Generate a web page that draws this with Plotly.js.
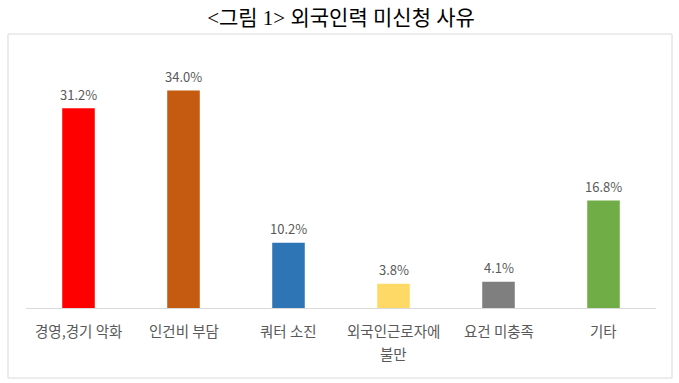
<!DOCTYPE html>
<html><head><meta charset="utf-8">
<script src="https://cdn.plot.ly/plotly-3.0.1.min.js"></script>
<style>body{margin:0;background:#fff}</style>
</head><body>
<div id="chart" style="width:679px;height:383px"></div>
<script>
const categories = ["경영,경기 악화", "인건비 부담", "쿼터 소진", "외국인근로자에\n불만", "요건 미충족", "기타"];
const values = [31.2, 34.0, 10.2, 3.8, 4.1, 16.8];
const labels = ["31.2%", "34.0%", "10.2%", "3.8%", "4.1%", "16.8%"];
const colors = ["#FF0000", "#C55A11", "#2E75B6", "#FFD966", "#7F7F7F", "#70AD47"];

const trace = {
  type: "bar",
  x: categories,
  y: values,
  marker: {color: colors},
  width: 0.31,
  hoverinfo: "none"
};

const font = "Noto Sans CJK KR, sans-serif";
const annotations = categories.map((c, i) => ({
  x: c, y: values[i], xref: "x", yref: "y",
  text: labels[i], showarrow: false,
  yanchor: "middle", yshift: 14,
  font: {family: font, size: 13, color: "#595959"}
}));
categories.forEach(c => {
  c.split("\n").forEach((line, k) => {
    annotations.push({
      x: c, y: 0, xref: "x", yref: "paper",
      text: line, showarrow: false,
      yanchor: "middle", yshift: -(22.5 + 23 * k),
      font: {family: font, size: 14.5, color: "#595959"}
    });
  });
});

const layout = {
  width: 679, height: 383,
  margin: {l: 26, r: 23, t: 52, b: 75},
  paper_bgcolor: "#fff", plot_bgcolor: "#fff",
  showlegend: false,
  title: {
    text: "<그림 1> 외국인력 미신청 사유",
    font: {family: "Liberation Serif, Noto Sans CJK KR, serif", size: 21, color: "#000"},
    x: 0.5, xref: "paper", xanchor: "center",
    y: 1 - 18/383, yref: "container", yanchor: "middle"
  },
  xaxis: {
    showline: true, linecolor: "#D9D9D9", linewidth: 1,
    ticks: "", showgrid: false, showticklabels: false,
    fixedrange: true
  },
  yaxis: {
    range: [0, 40], visible: false, showgrid: false, zeroline: false, fixedrange: true
  },
  annotations: annotations,
  shapes: [{
    type: "rect", xref: "paper", yref: "paper",
    x0: (8-26)/630, x1: (672-26)/630,
    y0: (308-378)/256, y1: (308-34)/256,
    line: {color: "#D9D9D9", width: 1}, fillcolor: "rgba(0,0,0,0)", layer: "below"
  }]
};

Plotly.newPlot("chart", [trace], layout, {displayModeBar: false, staticPlot: true});
</script>
</body></html>
